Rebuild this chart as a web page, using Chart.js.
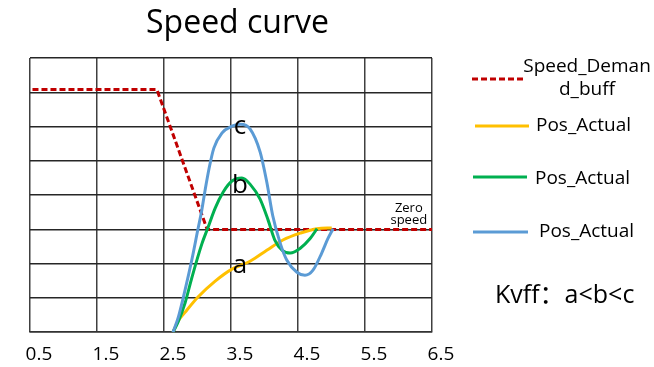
<!DOCTYPE html>
<html>
<head>
<meta charset="utf-8">
<script src="https://cdn.jsdelivr.net/npm/chart.js@4.4.1/dist/chart.umd.min.js"></script>
<style>
html,body{margin:0;padding:0;background:#fff;}
#c{display:block;}
</style>
</head>
<body>
<canvas id="c" width="654" height="367"></canvas>
<script>
// ---------- data ----------
const titleText = 'Speed curve';
const tickLabels = [0.5, 1.5, 2.5, 3.5, 4.5, 5.5, 6.5];
const gridLines = [0, 1, 2, 3, 4, 5, 6, 7, 8];

const seriesNames = ['Speed_Demand_buff', 'Pos_Actual', 'Pos_Actual', 'Pos_Actual'];
const legendLines = [['Speed_Deman', 'd_buff'], ['Pos_Actual'], ['Pos_Actual'], ['Pos_Actual']];

const demandX = [0, 2.26, 3.01, 6.6];
const demandY = [7.08, 7.08, 3, 3];

const aX = [2.5, 2.575, 2.68, 2.87, 3.13, 3.38, 3.65, 3.9, 4.14, 4.4, 4.65, 4.87];
const aY = [0, 0.32, 0.58, 1.02, 1.49, 1.84, 2.07, 2.39, 2.69, 2.89, 3.02, 3.04];

const bX = [2.5, 2.575, 2.68, 2.78, 2.93, 3.02, 3.13, 3.25, 3.38, 3.53, 3.65, 3.8, 3.92, 4.02, 4.13, 4.25, 4.4, 4.55, 4.65];
const bY = [0, 0.29, 0.85, 1.58, 2.57, 3.04, 3.62, 4.09, 4.41, 4.5, 4.32, 3.88, 3.27, 2.69, 2.39, 2.31, 2.45, 2.74, 3.02];

const cX = [2.5, 2.58, 2.68, 2.78, 2.87, 2.93, 2.98, 3.04, 3.11, 3.23, 3.38, 3.51, 3.65, 3.8, 3.9, 3.99, 4.1, 4.2, 4.35, 4.47, 4.59, 4.72, 4.81, 4.89];
const cY = [0, 0.44, 1.23, 2.1, 2.98, 3.56, 4.15, 4.79, 5.37, 5.81, 6.01, 6.07, 5.93, 5.26, 4.38, 3.39, 2.6, 2.1, 1.75, 1.66, 1.81, 2.31, 2.72, 3.02];

const curveTags = ['a', 'b', 'c'];
const tagX = [3.5, 3.5, 3.5];
const tagY = [1.72, 4.06, 5.78];

const zeroLabel = ['Zero', 'speed'];
const zeroLabelX = 6.02;
const zeroY = 3;

const kvffText = 'Kvff：a<b<c';

// ---------- styles ----------
const FONT = '"Open Sans", "Noto Sans", sans-serif';
const FONT_CJK = '"Open Sans", "Noto Sans CJK SC", sans-serif';
const colors = ['#C00000', '#FFC000', '#00B050', '#5B9BD5'];

function pts(xs, ys) { return xs.map((v, i) => ({ x: v, y: ys[i] })); }

const annot = {
  id: 'annot',
  afterDraw(chart) {
    const ctx = chart.ctx;
    const xs = chart.scales.x, ys = chart.scales.y;
    ctx.save();
    ctx.fillStyle = '#000';
    ctx.textBaseline = 'alphabetic';
    // title
    ctx.font = '32px ' + FONT;
    ctx.textAlign = 'center';
    ctx.fillText(titleText, 237.5, 33);
    // curve tags
    ctx.font = '26px ' + FONT;
    for (let i = 0; i < curveTags.length; i++) {
      ctx.fillText(curveTags[i], xs.getPixelForValue(tagX[i]), ys.getPixelForValue(tagY[i]));
    }
    // zero speed
    ctx.font = '13px ' + FONT;
    const zx = xs.getPixelForValue(zeroLabelX);
    const zy = ys.getPixelForValue(zeroY);
    ctx.fillText(zeroLabel[0], zx, zy - 17);
    ctx.fillText(zeroLabel[1], zx, zy - 5);
    // legend
    const rows = [
      { x1: 472, x2: 525, y: 79, tx: 587, ty: [72, 95], align: 'center' },
      { x1: 475, x2: 529, y: 126, tx: 536, ty: [131], align: 'left' },
      { x1: 473, x2: 527, y: 177, tx: 535, ty: [184], align: 'left' },
      { x1: 473, x2: 528, y: 232, tx: 539, ty: [237], align: 'left' }
    ];
    rows.forEach((r, i) => {
      ctx.beginPath();
      ctx.strokeStyle = colors[i];
      ctx.lineWidth = 3;
      ctx.setLineDash(i === 0 ? [6, 3] : []);
      ctx.moveTo(r.x1, r.y);
      ctx.lineTo(r.x2, r.y);
      ctx.stroke();
      ctx.setLineDash([]);
      ctx.font = '19px ' + FONT;
      ctx.textAlign = r.align;
      legendLines[i].forEach((t, k) => ctx.fillText(t, r.tx, r.ty[k]));
    });
    // Kvff
    ctx.font = '25px ' + FONT_CJK;
    ctx.textAlign = 'left';
    ctx.fillText(kvffText, 495, 303);
    ctx.restore();
  }
};

new Chart(document.getElementById('c'), {
  type: 'line',
  data: {
    datasets: [
      { label: seriesNames[0], data: pts(demandX, demandY), borderColor: colors[0], borderWidth: 3, borderDash: [6, 3], tension: 0, order: 4 },
      { label: seriesNames[1], data: pts(aX, aY), borderColor: colors[1], borderWidth: 3, cubicInterpolationMode: 'monotone', order: 3 },
      { label: seriesNames[2], data: pts(bX, bY), borderColor: colors[2], borderWidth: 3, cubicInterpolationMode: 'monotone', order: 2 },
      { label: seriesNames[3], data: pts(cX, cY), borderColor: colors[3], borderWidth: 3, cubicInterpolationMode: 'monotone', order: 1 }
    ].map(d => Object.assign(d, { xAxisID: 'x', yAxisID: 'y', pointRadius: 0, fill: false, borderCapStyle: 'butt' }))
  },
  options: {
    responsive: false,
    animation: false,
    devicePixelRatio: 1,
    layout: { padding: { left: 30, right: 222, top: 58, bottom: -10 } },
    plugins: { legend: { display: false }, title: { display: false }, tooltip: { enabled: false } },
    scales: {
      xg: {
        type: 'linear', position: 'bottom', min: 0, max: 6,
        ticks: { display: false, stepSize: 1 },
        grid: { display: true, color: '#404040', lineWidth: 1.5, drawTicks: false },
        border: { display: true, color: '#333', width: 1.5 }
      },
      x: {
        type: 'linear', position: 'bottom', min: 0.366, max: 6.366,
        afterBuildTicks: s => { s.ticks = tickLabels.map(v => ({ value: v })); },
        ticks: { autoSkip: false, maxRotation: 0, padding: 11, color: '#000', font: { family: FONT, size: 19 } },
        grid: { display: false, drawTicks: false },
        border: { display: false }
      },
      y: {
        type: 'linear', min: 0, max: 8,
        afterBuildTicks: s => { s.ticks = gridLines.map(v => ({ value: v })); },
        ticks: { display: false },
        grid: { color: '#262626', lineWidth: 1.5, drawTicks: false },
        border: { display: false }
      }
    }
  },
  plugins: [annot]
});
</script>
</body>
</html>
